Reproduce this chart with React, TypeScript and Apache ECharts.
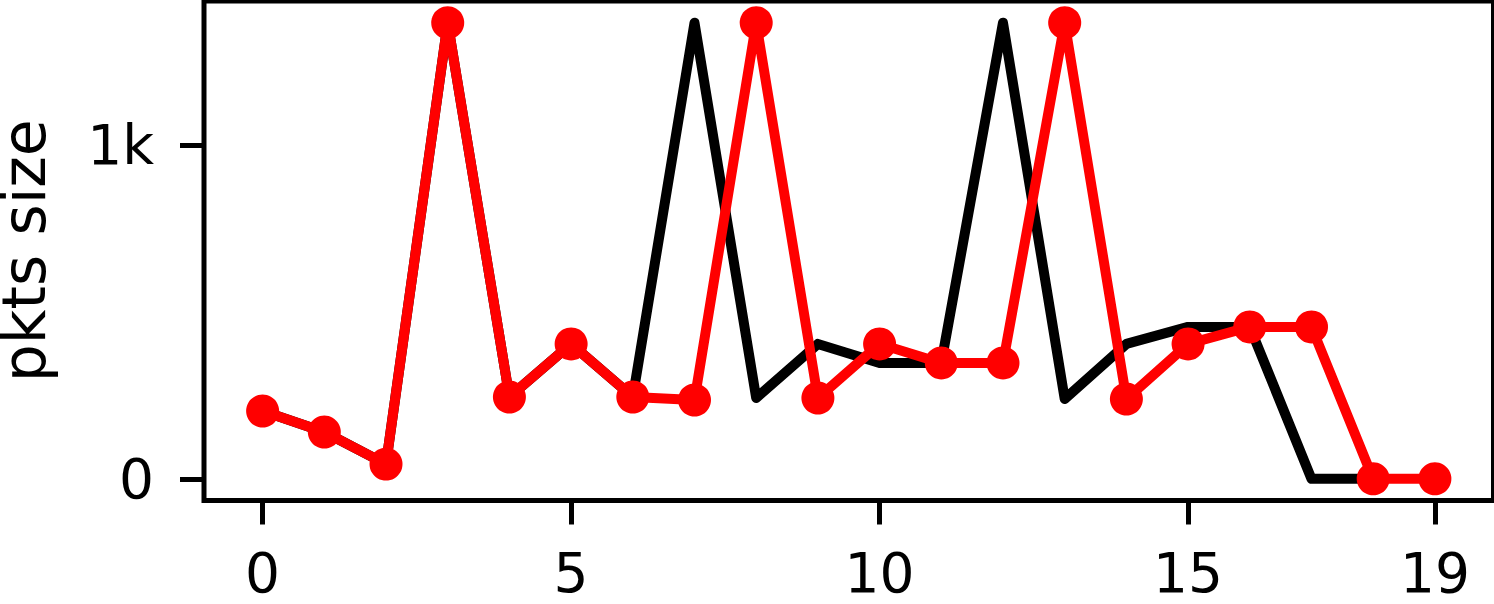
import React, { useEffect, useRef } from "react";
import * as echarts from "echarts";

const xIndexRed = [0, 1, 2, 3, 4, 5, 6, 7, 8, 9, 10, 11, 12, 13, 14, 15, 16, 17, 18, 19];
const redValues = [203, 140, 44, 1366, 245, 404, 245, 236, 1366, 242, 404, 347, 347, 1366, 239, 404, 455, 455, 0, 0];
const xIndexBlack = [0, 1, 2, 3, 4, 5, 6, 7, 8, 9, 10, 11, 12, 13, 14, 15, 16, 17, 18];
const blackValues = [203, 140, 44, 1366, 245, 404, 245, 1366, 242, 404, 347, 347, 1366, 239, 404, 455, 455, 0, 0];
const xTicks = [0, 5, 10, 15, 19];
const yTicks = [0, 1000];
const yAxisName = "pkts size";

const FONT = "DejaVu Sans";

export default function App() {
  const ref = useRef<HTMLDivElement>(null);
  useEffect(() => {
    if (!ref.current) return;
    const chart = echarts.init(ref.current, undefined, { renderer: "svg" });
    const black = xIndexBlack.map((x, i) => [x, blackValues[i]]);
    const red = xIndexRed.map((x, i) => [x, redValues[i]]);
    chart.setOption({
      animation: false,
      backgroundColor: "#ffffff",
      grid: {
        left: 204,
        right: 0.5,
        top: 1,
        bottom: 103.5,
        show: true,
        borderColor: "#000",
        borderWidth: 5,
        backgroundColor: "transparent",
        containLabel: false,
        outerBoundsMode: "none",
      },
      xAxis: {
        type: "value",
        min: -0.95,
        max: 19.95,
        splitLine: { show: false },
        axisLine: { show: false, onZero: false },
        axisTick: {
          show: true,
          customValues: xTicks,
          length: 24,
          lineStyle: { color: "#000", width: 5 },
        },
        axisLabel: {
          customValues: xTicks,
          margin: 45,
          fontFamily: FONT,
          fontSize: 55,
          color: "#000",
        },
      },
      yAxis: {
        type: "value",
        min: -65,
        max: 1431,
        name: yAxisName,
        nameLocation: "middle",
        nameGap: 158,
        nameTextStyle: { fontFamily: FONT, fontSize: 60, lineHeight: 44, color: "#000" },
        splitLine: { show: false },
        axisLine: { show: false, onZero: false },
        axisTick: {
          show: true,
          customValues: yTicks,
          length: 24,
          lineStyle: { color: "#000", width: 5 },
        },
        axisLabel: {
          customValues: yTicks,
          margin: 50,
          fontFamily: FONT,
          fontSize: 55,
          color: "#000",
          formatter: (v: number) => (v === 1000 ? "1k" : String(v)),
        },
      },
      series: [
        {
          type: "line",
          data: black,
          symbol: "none",
          lineStyle: { color: "#000", width: 10, join: "round", cap: "round" },
          z: 2,
        },
        {
          type: "line",
          data: red,
          symbol: "circle",
          symbolSize: 33,
          itemStyle: { color: "#ff0000" },
          lineStyle: { color: "#ff0000", width: 10, join: "round", cap: "round" },
          z: 3,
        },
      ],
    });
    return () => chart.dispose();
  }, []);
  return <div ref={ref} style={{ width: 1494, height: 604, position: "absolute", left: 0, top: 0 }} />;
}
